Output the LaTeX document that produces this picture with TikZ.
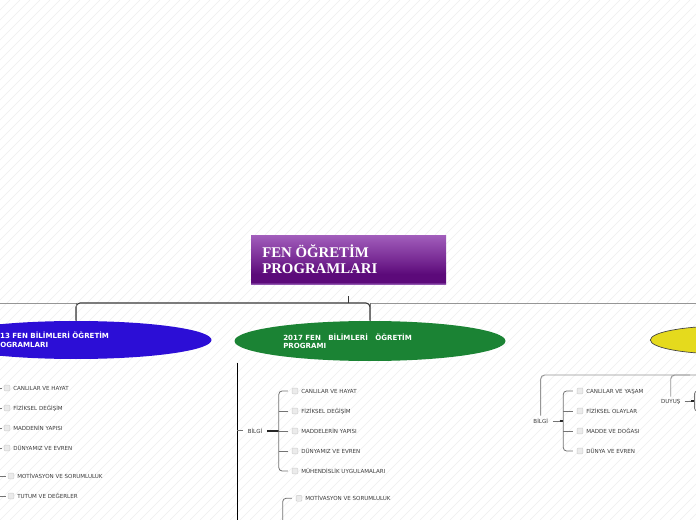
\documentclass[tikz,border=0pt]{standalone}
\usepackage{fontspec}
\setmainfont{DejaVu Sans}
\newfontfamily\titlefont{Liberation Serif}
\usetikzlibrary{shapes.geometric}
\definecolor{bluee}{RGB}{44,14,214}
\definecolor{greene}{RGB}{27,131,52}
\definecolor{yellowe}{RGB}{229,218,29}
\definecolor{txt}{RGB}{60,60,60}
\definecolor{ln}{RGB}{115,115,115}
\definecolor{lnlight}{RGB}{150,150,150}
\definecolor{lndark}{RGB}{55,55,55}
\definecolor{stripe}{RGB}{238,238,238}
\definecolor{pb}{RGB}{168,120,200}
\definecolor{pd}{RGB}{92,10,122}
\definecolor{pm}{RGB}{122,45,150}
\definecolor{pt}{RGB}{160,92,186}
\pgfdeclareverticalshading{titleshade}{100bp}{color(0bp)=(pb); color(25bp)=(pb); color(28bp)=(pd); color(36bp)=(pd); color(52bp)=(pm); color(75bp)=(pt); color(100bp)=(pt)}
\newcommand\leafnode[4]{%
  \node[chk] (#1c) at ({#2-6},#3) {};
  \node[lbl,anchor=base west] (#1) at (#2,{#3+2}) {#4};}
\begin{document}
\begin{tikzpicture}[x=0.75pt,y=-0.75pt,
  lbl/.style={font=\fontsize{4.16pt}{5pt}\selectfont, text=txt, inner sep=0pt},
  etext/.style={font=\bfseries\fontsize{5.3pt}{6pt}\selectfont, text=white, inner sep=0pt},
  ttext/.style={font=\titlefont\bfseries\fontsize{11.1pt}{12pt}\selectfont, text=white, inner sep=0pt},
  chk/.style={draw=gray!40, fill=gray!16, rounded corners=0.7pt, minimum size=4.4pt, inner sep=0pt, line width=0.3pt},
  conn/.style={draw=ln, line width=0.6pt},
  connl/.style={draw=lnlight, line width=0.7pt},
  connd/.style={draw=lndark, line width=0.8pt},
  heavy/.style={draw=black!85, line width=1.1pt},
  ell/.style={ellipse, inner sep=0pt, minimum width=203.25pt},
]
\useasboundingbox (0,0) rectangle (696,520);
\clip (0,0) rectangle (696,520);
\fill[white] (0,0) rectangle (696,520);
\foreach \i in {-53,...,70} \draw[stripe, line width=0.5pt] ({\i*10},520) -- ({\i*10+520},0);

% title
\node[shading=titleshade, minimum width=146.25pt, minimum height=36.75pt, inner sep=0pt] (title) at (348.5,260.5) {};
\node[ttext, anchor=base west] (t1) at (262,257.3) {FEN ÖĞRETİM};
\node[ttext, anchor=base west] (t2) at (262,273.3) {PROGRAMLARI};

% ellipses
\node[ell, fill=bluee, minimum height=28.5pt] (e2013) at (76,340) {};
\node[etext, anchor=base west] (e2013a) at (-10,339) {2013 FEN BİLİMLERİ ÖĞRETİM};
\node[etext, anchor=base west] (e2013b) at (-10.5,347.3) {PROGRAMLARI};
\node[ell, fill=greene, minimum height=30pt] (e2017) at (370,341) {};
\node[etext, anchor=base west] (e2017a) at (283,340.3) {2017 FEN~~~BİLİMLERİ~~~ÖĞRETİM};
\node[etext, anchor=base west] (e2017b) at (283,349) {PROGRAMI};
\node[ellipse, fill=yellowe, draw=black!75, line width=0.5pt, minimum width=112pt, minimum height=21pt, inner sep=0pt] (ey) at (725,340) {};

% top connectors
\coordinate (hub) at (348.5,303);
\draw[connd] ([yshift=-8.25pt]title.south) -- (title.south |- hub);
\draw[connl] (-5,303) -- (e2013.north |- hub);
\draw[connl] (e2017.north |- hub) -- (705,303);
\draw[connd, rounded corners=3pt] (e2013.north) -- (e2013.north |- hub) -- (e2017.north |- hub) -- (e2017.north);
\draw[conn, rounded corners=3pt] (e2013.north) -- (e2013.north |- hub);
\draw[conn, rounded corners=3pt] (e2017.north |- hub) -- (e2017.north);

% ---------- left column (2013)
\leafnode{a1}{13}{388}{CANLILAR VE HAYAT}
\leafnode{a2}{13}{408}{FİZİKSEL DEĞİŞİM}
\leafnode{a3}{13}{428}{MADDENİN YAPISI}
\leafnode{a4}{13}{448}{DÜNYAMIZ VE EVREN}
\leafnode{a5}{17}{476}{MOTİVASYON VE SORUMLULUK}
\leafnode{a6}{17}{496}{TUTUM VE DEĞERLER}
\foreach \n in {a1,a2,a3,a4,a5,a6} \draw[conn] (-8,0 |- \n c.west) -- ([xshift=-1.5pt]\n c.west);

% ---------- green column (2017)
\coordinate (gtop) at (237.3,363);
\coordinate (gbot) at (237.3,530);
\draw[draw=black, line width=0.75pt] (gtop) -- (gbot);
\node[lbl, anchor=base west] (gb) at (247.5,433) {BİLGİ};
\draw[conn] (gbot |- gb.center) -- ([xshift=-3.5pt]gb.west);
\leafnode{g1}{301}{391}{CANLILAR VE HAYAT}
\leafnode{g2}{301}{411}{FİZİKSEL DEĞİŞİM}
\leafnode{g3}{301}{431}{MADDELERİN YAPISI}
\leafnode{g4}{301}{451}{DÜNYAMIZ VE EVREN}
\leafnode{g5}{301}{471}{MÜHENDİSLİK UYGULAMALARI}
\coordinate (gbr) at (278.8,431);
\draw[heavy] ([xshift=3.7pt]gb.east |- gbr) -- (gbr);
\draw[conn, rounded corners=2.5pt] ([xshift=-3pt]g1c.west) -- (gbr |- g1c.west) -- (gbr |- g5c.west) -- ([xshift=-3pt]g5c.west);
\foreach \n in {g2,g3,g4} \draw[conn] (gbr |- \n c.west) -- ([xshift=-3pt]\n c.west);
\leafnode{g6}{305}{498.3}{MOTİVASYON VE SORUMLULUK}
\coordinate (gm) at (282.7,530);
\draw[conn, rounded corners=2.5pt] (gm) -- (gm |- g6c.west) -- ([xshift=-3pt]g6c.west);

% ---------- right column (yellow)
\coordinate (ytop) at (705,375);
\node[lbl, anchor=base west] (yb) at (533.2,423) {BİLGİ};
\node[lbl, anchor=base west] (yd) at (660.8,403) {DUYUŞ};
\draw[connl, rounded corners=3pt] (ytop) -- (yb.north |- ytop) -- ([yshift=1.5pt]yb.north);
\draw[connl, rounded corners=3pt] (690,375) -- (yd.north |- ytop) -- ([yshift=1.5pt]yd.north);
\leafnode{y1}{586}{391}{CANLILAR VE YAŞAM}
\leafnode{y2}{586}{411}{FİZİKSEL OLAYLAR}
\leafnode{y3}{586}{431}{MADDE VE DOĞASI}
\leafnode{y4}{586}{451}{DÜNYA VE EVREN}
\coordinate (ybr) at (563.3,421);
\draw[conn] ([xshift=3.5pt]yb.east |- ybr) -- ([xshift=-2.5pt]ybr);
\draw[heavy] ([xshift=-2.6pt]ybr) -- (ybr);
\draw[conn, rounded corners=2.5pt] ([xshift=-3pt]y1c.west) -- (ybr |- y1c.west) -- (ybr |- y4c.west) -- ([xshift=-3pt]y4c.west);
\foreach \n in {y2,y3} \draw[conn] (ybr |- \n c.west) -- ([xshift=-3pt]\n c.west);
\coordinate (dbr) at (694.6,401);
\draw[conn] ([xshift=3pt]yd.east |- dbr) -- (dbr);
\draw[heavy] ([xshift=-2.5pt]dbr) -- (dbr);
\draw[conn, rounded corners=2pt] (702,391) -- (dbr |- 0,391) -- (dbr |- 0,411) -- (702,411);
\end{tikzpicture}
\end{document}
